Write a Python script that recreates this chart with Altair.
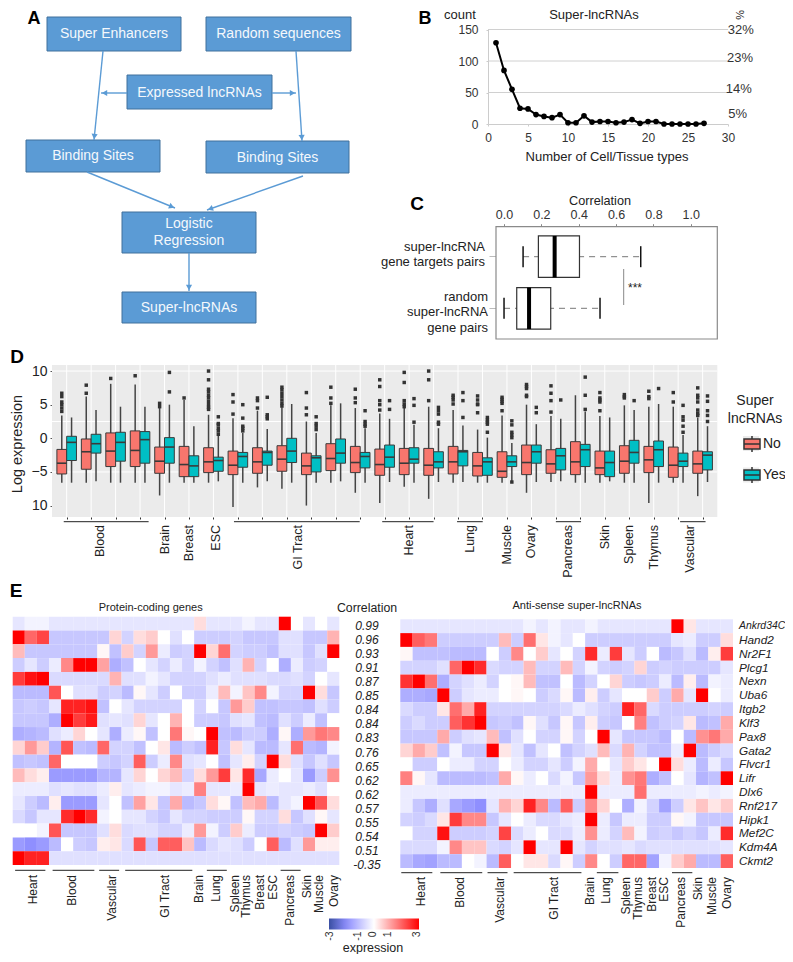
import math
import altair as alt
import pandas as pd

W, H = 777, 946
M = 8
FONT = "Liberation Sans"
ONE = alt.Data(values=[{"k": 1}])


def label(text, x, y, size=12.0, angle=0, align="center", baseline="middle",
          color="#222222", weight="normal", style="normal"):
    return alt.Chart(ONE).mark_text(
        text=text, fontSize=size, angle=angle, align=align, baseline=baseline,
        color=color, fontWeight=weight, fontStyle=style, font=FONT,
    ).encode(x=alt.value(x - M), y=alt.value(y - M))


def block(x0, y0, x1, y1, **mark):
    return alt.Chart(ONE).mark_rect(**mark).encode(
        x=alt.value(x0 - M), x2=alt.value(x1 - M), y=alt.value(y0 - M), y2=alt.value(y1 - M))


# ---------------- Panel A: flow diagram (figure units) ----------------
flow_names = ["Super Enhancers", "Random sequences", "Expressed lncRNAs", "Binding Sites",
              "Binding Sites", "Logistic\nRegression", "Super-lncRNAs"]
flow_x0 = [47, 206, 127, 26, 206, 122, 122]
flow_x1 = [181, 351, 272, 160, 349, 256, 256]
flow_y0 = [17, 17, 75, 140, 141, 212, 292]
flow_y1 = [51, 51, 109, 172, 173, 253, 323]
flow_text_y = [34.3, 34, 92.7, 156, 157.7, 224, 307.7]
arrow_x0 = [103, 296, 127, 272, 87, 303, 189]
arrow_y0 = [51, 51, 93, 93, 172, 176, 253]
arrow_x1 = [94, 302, 101, 296, 175, 207, 189]
arrow_y1 = [140, 141, 93, 93, 208, 210, 291]

flow = pd.DataFrame({"name": flow_names, "x0": flow_x0, "x1": flow_x1, "y0": flow_y0, "y1": flow_y1,
                     "ym": flow_text_y})
flow["xm"] = (flow.x0 + flow.x1) / 2
arrows = pd.DataFrame({"x0": arrow_x0, "y0": arrow_y0, "x1": arrow_x1, "y1": arrow_y1})
arrows["angle"] = [math.degrees(math.atan2(a.x1 - a.x0, -(a.y1 - a.y0))) for a in arrows.itertuples()]
arrows["hx"] = [a.x1 - 3.5 * math.sin(math.radians(a.angle)) for a in arrows.itertuples()]
arrows["hy"] = [a.y1 + 3.5 * math.cos(math.radians(a.angle)) for a in arrows.itertuples()]

fx = alt.Scale(domain=[0, 793], range=[-M, 793 - M])
fy = alt.Scale(domain=[0, 962], range=[-M, 962 - M])
a_rect = alt.Chart(flow).mark_rect(fill="#5B9BD5", stroke="#41719C", strokeWidth=1).encode(
    x=alt.X("x0:Q", scale=fx, axis=None), x2="x1:Q",
    y=alt.Y("y0:Q", scale=fy, axis=None), y2="y1:Q")
a_text = alt.Chart(flow).mark_text(color="#F4F8FC", fontSize=14, font=FONT, lineBreak="\n", lineHeight=17).encode(
    x=alt.X("xm:Q", scale=fx, axis=None), y=alt.Y("ym:Q", scale=fy, axis=None), text="name:N")
a_line = alt.Chart(arrows).mark_rule(color="#5B9BD5", strokeWidth=1.4).encode(
    x=alt.X("x0:Q", scale=fx, axis=None), x2="x1:Q",
    y=alt.Y("y0:Q", scale=fy, axis=None), y2="y1:Q")
a_head = alt.Chart(arrows).mark_point(shape="triangle-up", filled=True, size=38, color="#5B9BD5", opacity=1).encode(
    x=alt.X("hx:Q", scale=fx, axis=None), y=alt.Y("hy:Q", scale=fy, axis=None),
    angle=alt.Angle("angle:Q", scale=None))
panel_a = alt.layer(a_rect, a_line, a_head, a_text)

# ---------------- Panel B ----------------
b_types = list(range(1, 28))
b_counts = [129, 85, 55, 25, 24, 15, 12, 10, 15, 2, 2, 13, 3, 4, 4, 2, 3, 7, 1, 4, 4, 0, 0, 0, 0, 0, 1]
b_grid = [50, 100, 150]
b_pct_text = ["32%", "23%", "14%", "5%"]
b_pct_at = [150, 105, 55, 16]
b_pct_x = [31.6, 31.5, 31.35, 31.2]

bx = alt.Scale(domain=[0, 30], range=[488 - M, 728 - M], nice=False)
by = alt.Scale(domain=[0, 150], range=[124 - M, 29.5 - M], nice=False, zero=False)
b_x_axis = alt.Axis(
    orient="bottom", offset=124 - M - H, values=[0, 5, 10, 15, 20, 25, 30], title=None, grid=False,
    domainColor="#cccccc", tickColor="#cccccc", tickSize=2, labelFontSize=12, labelColor="#333333",
    labelFont=FONT, labelPadding=6, labelFlush=False)
b_y_axis = alt.Axis(
    orient="left", offset=-(488 - M), values=[0, 50, 100, 150], title=None, grid=False,
    domainColor="#cccccc", tickColor="#cccccc", tickSize=2, labelFontSize=12, labelColor="#333333",
    labelFont=FONT, labelPadding=8, labelFlush=False)


def BX(f):
    return alt.X(f + ":Q", scale=bx, axis=b_x_axis)


def BY(f):
    return alt.Y(f + ":Q", scale=by, axis=b_y_axis)


b_df = pd.DataFrame({"n": b_types, "c": b_counts})
b_grid_df = pd.DataFrame({"c": b_grid, "a": [0] * 3, "b": [30] * 3})
b_pct_df = pd.DataFrame({"t": b_pct_text, "c": b_pct_at, "n": b_pct_x})
panel_b = alt.layer(
    alt.Chart(b_grid_df).mark_rule(color="#d0d0d0", strokeWidth=1).encode(x=BX("a"), x2="b:Q", y=BY("c")),
    alt.Chart(b_df).mark_line(color="#000000", strokeWidth=2).encode(x=BX("n"), y=BY("c")),
    alt.Chart(b_df).mark_point(filled=True, color="#000000", size=32, opacity=1).encode(x=BX("n"), y=BY("c")),
    alt.Chart(b_pct_df).mark_text(fontSize=13, font=FONT, color="#333333").encode(x=BX("n"), y=BY("c"), text="t:N"),
)

# ---------------- Panel C ----------------
c_pairs = ["super-lncRNA\ngene targets pairs", "random\nsuper-lncRNA\ngene  pairs"]
c_low = [0.102, 0.0]
c_q1 = [0.184, 0.068]
c_med = [0.271, 0.134]
c_q3 = [0.404, 0.25]
c_high = [0.732, 0.514]
c_df = pd.DataFrame({"p": c_pairs, "low": c_low, "q1": c_q1, "med": c_med, "q3": c_q3, "high": c_high})
c_frame = pd.DataFrame({"a": [-0.043], "b": [1.142]})

cx = alt.Scale(domain=[-0.043, 1.142], range=[496 - M, 717.3 - M], nice=False, zero=False)
cy = alt.Scale(domain=c_pairs, range=[230.9 - M, 334.1 - M], paddingInner=0, paddingOuter=0)
c_x_axis = alt.Axis(
    orient="top", offset=-(226.7 - M), values=[0, 0.2, 0.4, 0.6, 0.8, 1.0], format=".1f", title=None,
    grid=False, domain=False, tickColor="#888888", tickSize=3, labelFontSize=12.5, labelFont=FONT,
    labelColor="#333333", labelPadding=2, labelFlush=False)
c_y_axis = alt.Axis(
    orient="left", offset=-(496 - M), title=None, labels=False, domain=False, grid=False,
    tickSize=7, tickColor="#bbbbbb")


def CX(f):
    return alt.X(f + ":Q", scale=cx, axis=c_x_axis)


c_y = alt.Y("p:N", scale=cy, sort=c_pairs, axis=c_y_axis)
panel_c = alt.layer(
    alt.Chart(c_frame).mark_rect(fill="#ffffff", stroke="#8a8a8a", strokeWidth=1.2).encode(
        x=CX("a"), x2="b:Q", y=alt.value(226.7 - M), y2=alt.value(339 - M)),
    alt.Chart(c_df).mark_rule(color="#777777", strokeWidth=1, strokeDash=[6, 5]).encode(
        x=CX("low"), x2="high:Q", y=c_y),
    alt.Chart(c_df).mark_bar(size=41.5, fill="#ffffff", stroke="#333333", strokeWidth=1.2).encode(
        x=CX("q1"), x2="q3:Q", y=c_y),
    alt.Chart(c_df).mark_tick(orient="vertical", size=41.5, thickness=4, color="#000000", opacity=1).encode(
        x=CX("med"), y=c_y),
    alt.Chart(c_df).mark_tick(orient="vertical", size=21, thickness=1.5, color="#111111", opacity=1).encode(
        x=CX("low"), y=c_y),
    alt.Chart(c_df).mark_tick(orient="vertical", size=21, thickness=1.5, color="#111111", opacity=1).encode(
        x=CX("high"), y=c_y),
    alt.Chart(c_df[:1]).mark_text(align="right", fontSize=13, font=FONT, color="#222222", lineBreak="\n",
                                  lineHeight=15.5, dy=-10).encode(
        x=alt.value(485 - M), y=c_y, text="p:N"),
    alt.Chart(c_df[1:]).mark_text(align="right", fontSize=13, font=FONT, color="#222222", lineBreak="\n",
                                  lineHeight=15.5, dy=-11.6).encode(
        x=alt.value(488 - M), y=c_y, text="p:N"),
)

# ---------------- Panel D ----------------
# per tissue column: whisker high, q3, median, q1, whisker low
no_stats = [
    (3.4, -1.65, -3.7, -5.3, -6.6), (6.2, -0.1, -2.0, -4.6, -6.6), (8.1, 0.8, -1.9, -4.2, -6.6), (8.0, 1.1, -1.8, -4.2, -6.6),
    (4.5, -1.3, -3.4, -5.2, -8.5), (5.7, -1.2, -3.9, -5.7, -6.6), (3.5, -1.4, -3.5, -5.1, -6.6), (3.0, -1.9, -4.0, -5.4, -10.2),
    (4.1, -1.4, -3.5, -5.2, -7.3), (4.6, -1.1, -3.1, -4.9, -7.5), (2.5, -2.2, -4.1, -5.4, -10.0), (4.9, -0.8, -3.0, -4.8, -6.6),
    (4.5, -1.2, -3.6, -5.1, -8.1), (3.7, -1.6, -3.9, -5.5, -9.6), (4.5, -1.5, -3.7, -5.4, -7.2), (4.7, -1.5, -4.0, -5.5, -9.0),
    (4.2, -1.2, -3.5, -5.3, -6.6), (1.3, -2.1, -4.1, -5.6, -6.6), (3.4, -2.0, -4.9, -5.8, -6.6), (5.0, -1.0, -3.6, -5.4, -8.1),
    (3.3, -1.7, -3.8, -5.2, -6.5), (6.4, -0.5, -3.5, -5.4, -6.6), (3.3, -1.9, -4.4, -5.4, -6.6), (4.9, -1.1, -3.4, -5.2, -6.6),
    (4.7, -1.2, -3.2, -5.1, -9.6), (4.7, -1.3, -4.0, -5.8, -6.6), (3.1, -1.9, -3.8, -5.2, -8.6),
]
yes_stats = [
    (3.1, 0.3, -0.6, -3.3, -6.6), (4.2, 0.6, -0.8, -2.2, -6.4), (4.7, 0.9, -0.6, -3.4, -6.6), (4.7, 1.0, -0.2, -3.7, -6.6),
    (5.0, 0.1, -1.3, -3.7, -6.6), (1.8, -2.6, -4.1, -5.7, -6.6), (0.4, -2.8, -3.3, -4.9, -6.4), (0.8, -2.1, -2.7, -4.3, -6.6),
    (1.4, -1.9, -2.1, -4.0, -6.4), (5.1, 0.0, -1.9, -3.6, -6.6), (0.8, -2.6, -2.9, -5.0, -6.6), (5.2, -0.1, -2.2, -3.7, -6.4),
    (1.5, -2.1, -2.7, -4.4, -6.6), (2.9, -1.0, -2.8, -4.3, -6.5), (2.0, -1.4, -3.1, -3.7, -6.6), (1.5, -2.0, -3.5, -4.4, -6.5),
    (1.9, -1.8, -2.0, -4.1, -6.5), (0.1, -2.9, -3.5, -5.5, -6.6), (-0.7, -2.6, -3.5, -4.2, -6.5), (2.1, -1.0, -2.0, -3.7, -6.5),
    (2.9, -1.5, -2.6, -4.7, -6.4), (4.0, -0.9, -1.7, -4.2, -6.6), (3.1, -1.9, -3.6, -5.7, -6.4), (4.2, -0.3, -2.1, -3.7, -6.6),
    (5.1, -0.4, -1.7, -4.2, -6.6), (0.5, -2.2, -3.4, -4.2, -6.6), (1.8, -2.0, -2.5, -4.7, -6.5),
]
no_outliers = [
    [6.7, 6.2, 5.4, 5.0, 4.5, 4.0], [7.9, 6.7], [8.9], [9.3], [5.2, 4.7], [6.0],
    [10.0, 8.7, 7.3, 6.9, 6.4, 6.0, 5.5, 5.0, 4.6, 4.3], [6.5, 5.4, 3.6], [6.0, 5.6, 4.5],
    [7.6, 7.2, 6.7, 6.2, 5.7, 5.2, 4.8], [6.8, 4.5, 3.5], [7.6, 6.0, 5.2], [7.3, 6.0, 5.3], [8.7, 7.7, 5.6, 5.0, 4.2],
    [9.8, 8.3, 5.6, 5.1, 4.7], [10.0, 8.7, 5.6], [6.4, 6.1, 5.7, 5.1], [6.3, 5.7, 5.1, 5.0, 3.8], [6.1, 5.8, 5.5, 5.2, 4.1],
    [8.0, 7.7, 7.4, 6.4, 6.2], [7.8, 6.7, 5.6, 3.9], [], [6.8, 6.0, 5.7, 5.4, 4.1], [6.5, 6.2, 6.0], [7.0, 6.2, 5.9],
    [6.8, 5.4], [7.5, 6.4, 6.0, 5.4, 4.2, 3.7, 3.4],
]
yes_outliers = [
    [], [], [], [], [9.8, 6.9], [], [3.2, 2.2, 2.0, 1.5, 1.1, 0.6], [5.0, 3.0, 1.8, 1.5, 1.1], [6.1, 3.5, 3.2, 2.9], [],
    [3.2, 2.2, 1.8, 1.3], [], [4.1, 2.5, 2.1, 1.8], [5.6, 4.3], [5.9, 4.9, 2.4], [4.6, 4.1, 3.6, 2.4, 2.1], [6.8, 5.6, 3.1],
    [3.1, 2.7, 2.4, 2.1, 0.9], [2.6, 2.0, 0.9, 0.5, 0.1, -6.5], [4.6, 3.8], [5.7], [9.1, 6.4, 4.3], [], [5.6], [7.4],
    [4.9, 3.2, 2.7, 1.8, 0.9], [6.3, 5.5, 4.1, 3.4, 2.5],
]
d_group_names = ["Blood", "Brain", "Breast", "ESC", "GI Tract", "Heart", "Lung", "Muscle", "Ovary", "Pancreas",
                 "Skin", "Spleen", "Thymus", "Vascular"]
d_group_pos = [2.35, 5, 6, 7.1, 10.45, 15, 17.5, 19, 20, 21.5, 23, 24, 25, 26.5]
d_bar_from = [0.88, 7.84, 13.9, 16.96, 21.0, 26.08]
d_bar_to = [4.35, 12.98, 16.0, 18.01, 22.03, 27.12]

rows, outs = [], []
for i in range(27):
    for sup, st, ol, x0, x1 in (("No", no_stats[i], no_outliers[i], -0.4, 0.0),
                                ("Yes", yes_stats[i], yes_outliers[i], 0.0, 0.4)):
        rows.append({"sup": sup, "x0": i + 1 + x0, "x1": i + 1 + x1, "xm": i + 1 + (x0 + x1) / 2,
                     "hi": st[0], "q3": st[1], "med": st[2], "q1": st[3], "lo": st[4]})
        outs += [{"xm": i + 1 + (x0 + x1) / 2, "v": v} for v in ol]
d_df = pd.DataFrame(rows)
d_out = pd.DataFrame(outs)
d_labels = pd.DataFrame({"t": d_group_names, "x": d_group_pos})
d_bars = pd.DataFrame({"a": d_bar_from, "b": d_bar_to})
d_vgrid = pd.DataFrame({"x": list(range(1, 28))})
d_hgrid = pd.DataFrame({"y": [10, 2.5, -5], "a": [0.4] * 3, "b": [27.6] * 3})
d_bg = pd.DataFrame({"a": [0.4], "b": [27.6], "lo": [-11.7], "hi": [10.9]})

dx = alt.Scale(domain=[0.4, 27.6], range=[52 - M, 717.3 - M], nice=False, zero=False)
dy = alt.Scale(domain=[-11.7, 10.9], range=[517 - M, 365 - M], nice=False, zero=False)
d_x_axis = alt.Axis(
    orient="bottom", offset=517 - M - H, values=list(range(1, 28)), labels=False, title=None, grid=False,
    domain=False, tickSize=2, tickColor="#333333")
d_y_axis = alt.Axis(
    orient="left", offset=-(52 - M), values=[10, 5, 0, -5, -10], title=None, grid=False, domain=False,
    tickSize=2, tickColor="#555555", labelFontSize=14, labelFont=FONT, labelColor="#222222", labelPadding=3,
    labelFlush=False, labelExpr="datum.value==-10?'10':datum.label")


def DX(f):
    return alt.X(f + ":Q", scale=dx, axis=d_x_axis)


def DY(f):
    return alt.Y(f + ":Q", scale=dy, axis=d_y_axis)


sup_color = alt.Scale(domain=["No", "Yes"], range=["#F8766D", "#00BFC4"])
BOXPATH = "M-1,-0.62H1V0.62H-1ZM-1,0H1M0,-0.62V-1M0,0.62V1"
panel_d = alt.layer(
    alt.Chart(d_bg).mark_rect(fill="#EBEBEB").encode(x=DX("a"), x2="b:Q", y=DY("lo"), y2="hi:Q"),
    alt.Chart(d_vgrid).mark_rule(color="#ffffff", strokeWidth=1).encode(
        x=DX("x"), y=alt.value(365 - M), y2=alt.value(517 - M)),
    alt.Chart(d_hgrid).mark_rule(color="#ffffff", strokeWidth=1).encode(x=DX("a"), x2="b:Q", y=DY("y")),
    alt.Chart(d_df).mark_rule(color="#444444", strokeWidth=1.5).encode(x=DX("xm"), y=DY("lo"), y2="hi:Q"),
    alt.Chart(d_df).mark_rect(stroke="#3a3a3a", strokeWidth=1).encode(
        x=DX("x0"), x2="x1:Q", y=DY("q1"), y2="q3:Q",
        color=alt.Color("sup:N", scale=sup_color, legend=alt.Legend(
            orient="none", legendX=743 - M, legendY=435 - M, title=None, symbolType=BOXPATH, symbolSize=256,
            symbolStrokeColor="#333333", symbolStrokeWidth=1.5, labelFontSize=14, labelFont=FONT, labelColor="#222222",
            rowPadding=9, labelOffset=2))),
    alt.Chart(d_df).mark_rule(color="#3a3a3a", strokeWidth=1.6).encode(x=DX("x0"), x2="x1:Q", y=DY("med")),
    alt.Chart(d_out).mark_point(filled=True, color="#333333", size=12, opacity=1, shape="square").encode(
        x=DX("xm"), y=DY("v")),
    alt.Chart(d_bars).mark_rule(color="#222222", strokeWidth=1).encode(x=DX("a"), x2="b:Q", y=alt.value(521.7 - M)),
    alt.Chart(d_labels).mark_text(angle=270, align="right", baseline="middle", fontSize=12.5, font=FONT,
                                  color="#222222").encode(x=DX("x"), y=alt.value(525 - M), text="t:N"),
)

# ---------------- Panel E ----------------
genes = ["Ankrd34C", "Hand2", "Nr2F1", "Plcg1", "Nexn", "Uba6", "Itgb2", "Klf3", "Pax8", "Gata2", "Flvcr1", "Lifr",
         "Dlx6", "Rnf217", "Hipk1", "Mef2C", "Kdm4A", "Ckmt2"]
correlations = ["0.99", "0.96", "0.93", "0.91", "0.87", "0.85", "0.84", "0.84", "0.83", "0.76", "0.65", "0.62",
                "0.62", "0.57", "0.55", "0.54", "0.51", "-0.35"]
# expression in tenths, one row per gene, 27 tissue columns
protein_tenths = [
    [-4, -2, -2, -4, -4, -4, -4, -4, -4, -4, -4, -4, -4, -4, -4, 4, -4, -4, -4, -2, -4, -4, 30, 0, -4, 0, -4],
    [30, 18, 22, -9, -9, -9, -9, -9, 5, -7, 4, 6, 0, -5, 0, -8, -8, -8, -7, -9, -9, -9, -5, -5, -9, -9, 9],
    [8, -9, -9, -9, -9, -9, -9, 1, -10, 6, -7, 12, -3, -8, -7, 30, 5, 17, -7, -8, -8, -10, -5, -5, -9, -5, 30],
    [-8, -4, -8, -3, 14, 30, 30, 11, -13, -10, 0, -4, -7, -3, -7, -2, -7, -10, -5, 9, -7, 0, -13, -3, -8, -7, 0],
    [23, 28, 30, -6, -6, -6, -6, -6, 9, -5, -5, -2, -4, -7, -7, -7, -5, -3, -5, -5, -5, -6, -6, -5, -7, 0, -4],
    [-11, -11, -11, 20, 0, -5, -5, -8, -7, -11, 1, -4, -8, 0, -8, -8, -3, 8, -2, 7, 14, -2, -7, -7, 30, 4, -9],
    [-9, -8, -9, -4, 26, 26, 28, -10, 0, -4, -7, -7, -7, -7, 0, -7, 0, -9, 12, 6, -10, -10, -9, -9, -10, -5, -8],
    [-9, -9, -9, -13, 30, 23, 27, -5, -4, -5, 5, -4, 0, 9, 0, -8, -8, -9, -5, -4, -10, -11, -5, -8, -3, -10, 0],
    [-13, -12, -11, -5, -3, 5, 0, -4, -13, -3, 1, -10, 0, 16, 1, 0, 30, -10, -11, -8, -8, -13, 1, -13, 12, 16, 14],
    [5, 12, 6, -12, 20, -10, -11, 18, -7, -7, -10, 0, 3, -11, -8, -10, 26, -9, 4, -4, -11, -11, -4, 17, -11, -12, -2],
    [-10, -9, -10, 18, 0, 0, 0, -8, -9, -7, 19, -8, -3, 14, -5, -4, 0, -10, -4, 2, -7, 30, 4, -5, -9, -5, -9],
    [8, 4, 2, -16, -16, -16, -16, -12, -12, -4, 5, 0, 5, 8, -7, 4, 12, 23, 3, 25, -14, -3, 0, -4, -16, -8, 13],
    [-3, -3, -3, -5, -4, -5, -5, -3, 2, -4, -3, -2, -2, -4, -3, 15, -4, -4, -3, 30, -4, -3, -4, -4, -3, -5, 0],
    [-4, -8, -11, 2, -16, -16, -16, -4, 0, -10, 11, 3, -9, 10, -11, -9, 4, 1, -10, 8, 10, -11, -4, -2, 30, 20, 4],
    [-6, -9, -4, -4, 25, 30, 25, -2, 0, -4, -4, -7, -9, -4, -7, -7, -8, -8, -8, 1, -7, -7, 4, -9, -5, 1, -4],
    [0, 0, -2, 20, -9, -9, -9, -5, 4, -6, -5, -5, -7, -7, -3, 12, -2, -8, 6, -3, -8, -8, -7, -8, -9, 30, 6],
    [-16, -18, -16, -11, 0, -8, -9, 2, 3, -6, 20, -9, 19, 19, 7, -11, -6, -4, -5, -8, 0, 19, -11, -5, 12, 2, 2],
    [30, 26, 26, -5, -5, -5, -5, -5, -5, -5, -5, -5, -5, -5, -5, -5, -5, -5, -5, -5, -5, -5, -5, -5, -5, -5, -5],
]
antisense_tenths = [
    [-4, -4, -4, -4, -4, -4, -4, -4, -4, -4, -2, -4, -2, -4, -4, -2, -4, -4, -4, -4, -4, -4, 30, 3, -4, -4, -4],
    [30, 19, 16, -8, -8, -8, -8, -8, 8, -8, 17, 3, -2, -4, 0, -8, -8, -8, -8, -8, -8, -8, -4, -3, -8, -8, 4],
    [1, -10, -10, -10, -11, -11, -11, 0, -8, 14, 0, 6, -4, 0, -7, 25, -3, 23, -4, -8, 0, -11, -9, -5, -11, 2, 23],
    [-7, -7, -7, -5, 18, 30, 25, -6, -7, -7, 8, -7, -7, 8, -7, -2, -7, -8, -7, 5, -8, -7, -8, -8, -8, -8, -4],
    [24, 30, 17, -13, -7, -5, -3, -7, 0, 1, 8, -10, -10, 0, -11, -7, 0, 5, -8, -9, -8, -3, -11, 2, -11, -2, -3],
    [-13, -13, -14, 30, -8, -4, -3, -3, 0, 1, 0, -8, -6, 1, -11, 2, -8, -4, 0, 0, 6, -8, 10, -4, 30, 0, -3],
    [-6, -8, -8, 3, 17, 10, 26, -7, -7, -7, -7, -7, -7, -6, -3, -5, -7, -8, 26, 18, -6, -8, -8, -8, -8, -7, -8],
    [-8, -6, -8, -8, 19, 24, 30, -9, -8, -10, 1, -5, -9, 1, -9, 2, -8, -9, 0, 15, -10, -8, -7, 3, -11, -10, 10],
    [-9, -9, -9, 10, -8, -5, -4, 8, -10, -5, 0, -7, -7, 1, -7, 0, 30, -4, -9, -9, -9, -11, 0, -11, 13, 16, 10],
    [5, 10, 6, -10, -2, -9, -9, 30, 3, -4, -10, -4, 0, -10, -7, -5, 8, -6, 9, -7, -10, -10, -3, 30, -11, -8, -6],
    [0, -8, -8, 0, -3, -3, -7, -7, 0, -3, -7, -7, -4, -8, -2, 10, 0, -4, 6, 3, 0, 30, 4, -3, -11, -3, -9],
    [15, 1, -4, -11, -11, -11, -11, -10, 10, 1, -3, 0, -6, -2, -9, 12, 4, -3, 13, 16, -13, -10, 0, -4, -12, -10, 30],
    [-3, -3, -3, -3, -3, -3, -3, -3, -3, -3, -3, -3, -3, -3, -3, 30, -3, -3, -3, 17, -3, -3, -3, -3, -2, -3, -2],
    [-3, -9, -13, -5, -14, -16, -18, -4, 9, 5, 26, 14, -11, 19, -8, 14, 5, 0, -13, -2, -7, -15, -8, 3, 7, 3, 6],
    [-7, -8, -6, 3, 23, 14, 14, -9, -4, 0, -3, -6, -6, -4, -3, 30, -3, -9, -3, -3, -8, -8, 1, -2, -9, -9, -9],
    [0, -7, -7, 28, -8, -8, -8, -7, 22, -6, -3, 0, -6, -6, -3, 13, -3, -7, 8, -2, -8, -7, -9, -7, -9, -3, 25],
    [-6, -6, -6, -2, 14, 7, 7, -6, -7, -4, 30, -4, -4, 30, -4, -7, -5, -5, -4, -6, -5, -5, -5, -5, -5, -5, -4],
    [-11, -14, -15, -11, -11, 0, -2, -11, 19, 0, 3, 3, -6, 1, -8, 14, 0, -8, 18, 18, -15, -2, 6, 10, -11, -11, 19],
]
e_tissues = ["Heart", "Blood", "Vascular", "GI Tract", "Brain", "Lung", "Spleen", "Thymus", "Breast", "ESC", "Pancreas",
             "Skin", "Muscle", "Ovary"]
el_pos = [1.7, 4.9, 8.18, 12.6, 15.4, 16.8, 18.4, 19.3, 20.46, 21.5, 22.9, 24.3, 25.35, 26.6]
er_pos = [1.65, 4.85, 8.1, 12.5, 15.4, 16.7, 18.3, 19.3, 20.4, 21.4, 22.8, 24.2, 25.3, 26.5]
el_bar_from = [0.2, 3.3, 7.15, 9.3, 16.05, 22.15]
el_bar_to = [2.7, 6.75, 8.8, 14.85, 17.7, 23.8]
er_bar_from = [0.08, 3.25, 7.08, 9.2, 15.95, 22.05]
er_bar_to = [2.6, 6.65, 8.7, 14.7, 17.7, 23.7]
legend_ticks = ["-3", "-1", "0", "1", "3"]
legend_tick_x = [330, 358, 373, 388, 417]

heat_scale = alt.Scale(domain=[-3, -1.8, 0, 3], range=["#3A4FA3", "#8F8FFF", "#FFFFFF", "#FF0000"],
                       interpolate="rgb")


def melt(matrix):
    return pd.DataFrame([{"gene": g, "c0": j, "c1": j + 1, "v": t / 10}
                         for g, row in zip(genes, matrix) for j, t in enumerate(row)])


def heat_panel(matrix, x0, x1, y0, y1, y_axis, legend, pos, bar_from, bar_to, bar_y, label_y):
    hx = alt.Scale(domain=[0, 27], range=[x0 - M, x1 - M], nice=False, zero=False)
    hy = alt.Scale(domain=genes, range=[y0 - M, y1 - M], paddingInner=0, paddingOuter=0)
    return alt.layer(
        alt.Chart(melt(matrix)).mark_rect(strokeWidth=0).encode(
            x=alt.X("c0:Q", scale=hx, axis=None), x2="c1:Q",
            y=alt.Y("gene:N", scale=hy, sort=genes, axis=y_axis),
            color=alt.Color("v:Q", scale=heat_scale, legend=legend)),
        alt.Chart(pd.DataFrame({"a": bar_from, "b": bar_to})).mark_rule(color="#222222", strokeWidth=1).encode(
            x=alt.X("a:Q", scale=hx, axis=None), x2="b:Q", y=alt.value(bar_y - M)),
        alt.Chart(pd.DataFrame({"t": e_tissues, "x": pos})).mark_text(
            angle=270, align="right", baseline="middle", fontSize=12, font=FONT, color="#222222").encode(
            x=alt.X("x:Q", scale=hx, axis=None), y=alt.value(label_y - M), text="t:N"),
    )


panel_el = heat_panel(protein_tenths, 12.7, 339.3, 616.7, 865, None, None, el_pos, el_bar_from, el_bar_to, 870.3, 875)
panel_er = heat_panel(
    antisense_tenths, 400.3, 733, 619.3, 868,
    alt.Axis(orient="right", offset=733 - M - W, title=None, domain=False, ticks=False, grid=False, labelPadding=5.5,
             labelFontSize={"condition": {"test": "datum.label=='Ankrd34C'", "value": 10.4}, "value": 11.8},
             labelFont=FONT, labelFontStyle="italic", labelColor="#222222", labelLimit=60),
    alt.Legend(orient="none", legendX=329 - M, legendY=918.5 - M, direction="horizontal", gradientLength=90,
               gradientThickness=11, values=[], title=None),
    er_pos, er_bar_from, er_bar_to, 872.7, 877)

corr_y = alt.Scale(domain=list(range(18)), range=[619 - M, 872 - M], paddingInner=0, paddingOuter=0)
panel_corr = alt.Chart(pd.DataFrame({"r": list(range(18)), "t": correlations})).mark_text(
    fontSize=12, fontStyle="italic", font=FONT, color="#222222").encode(
    x=alt.value(367 - M), y=alt.Y("r:O", scale=corr_y, axis=None), text="t:N")

# ---------------- Free labels ----------------
texts = [
    label("A", 34, 18.5, 18, weight="bold", color="#000000"),
    label("B", 425, 18.5, 18, weight="bold", color="#000000"),
    label("C", 417, 204, 19, weight="bold", color="#000000"),
    label("D", 17, 357, 19, weight="bold", color="#000000"),
    label("E", 16, 591, 19, weight="bold", color="#000000"),
    label("count", 460, 15, 13),
    label("Super-lncRNAs", 594, 15, 13),
    label("%", 739, 15, 11, angle=90),
    label("Number of Cell/Tissue types", 607, 157, 13),
    label("Correlation", 600, 200.7, 12.7),
    label("***", 635, 288, 12),
    label("Log expression", 18, 444, 14.5, angle=270),
    label("Super", 755, 401, 14),
    label("lncRNAs", 755, 418.7, 14),
    label("Protein-coding genes", 150.7, 607.7, 11),
    label("Correlation", 367, 607.7, 12.3),
    label("Anti-sense super-lncRNAs", 577, 606, 11),
    label("expression", 373, 947.5, 12.5),
]
texts += [label(t, x, 931.5, 10.5, angle=270, align="right", color="#333333")
          for t, x in zip(legend_ticks, legend_tick_x)]
sig_line = alt.Chart(ONE).mark_rule(color="#888888", strokeWidth=1).encode(
    x=alt.value(623.7 - M), y=alt.value(269 - M), y2=alt.value(305 - M))
key_bgs = [block(743, 436, 759, 451, fill="#EBEBEB"), block(743, 467.5, 759, 482.5, fill="#EBEBEB")]

chart = alt.layer(
    panel_a, panel_b, panel_c, sig_line, panel_d, *key_bgs, panel_el, panel_corr, panel_er, *texts
).resolve_scale(x="independent", y="independent", color="independent").properties(
    width=W, height=H, padding=0, autosize=alt.AutoSizeParams(type="none")
).configure_view(stroke=None)

chart.save("out.html", embed_options={"renderer": "svg", "actions": False})
